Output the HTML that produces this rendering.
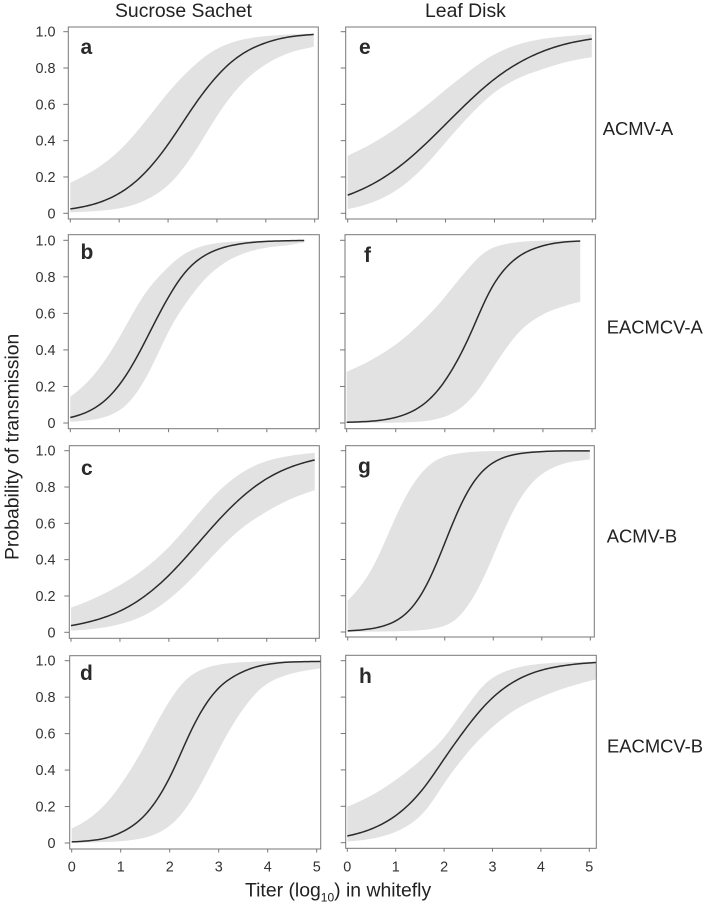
<!DOCTYPE html>
<html>
<head>
<meta charset="utf-8">
<title>Probability of transmission vs titer</title>
<style>
html,body{margin:0;padding:0;background:#fff;}
svg{display:block;font-family:"Liberation Sans",Arial,sans-serif;}
.title{font-size:19.4px;fill:#222;}
.virus{font-size:18.4px;fill:#222;}
.tick{font-size:14.4px;fill:#333;}
.letter{font-size:21px;font-weight:bold;fill:#2a2a2a;}
</style>
</head>
<body>
<svg id="chart" xmlns="http://www.w3.org/2000/svg" width="708" height="906" viewBox="0 0 708 906">
  <rect x="0" y="0" width="708" height="906" fill="#fff"/>
  <text class="title" x="115" y="17">Sucrose Sachet</text>
  <text class="title" x="425" y="17">Leaf Disk</text>
  <text class="virus" x="602.7" y="135">ACMV-A</text>
  <text class="virus" x="606.7" y="333.3">EACMCV-A</text>
  <text class="virus" x="606.7" y="542.7">ACMV-B</text>
  <text class="virus" x="607" y="752.3">EACMCV-B</text>
  <text class="title" transform="translate(18.3 560) rotate(-90)">Probability of transmission</text>
  <text class="title" x="245" y="896.5">Titer (log<tspan font-size="12px" dy="5">10</tspan><tspan dy="-5">) in whitefly</tspan></text>
</svg>
<script>
// Shared axis data
const titers = [0, 0.5, 1, 1.5, 2, 2.5, 3, 3.5, 4, 4.5];
const yTicks = [0, 0.2, 0.4, 0.6, 0.8, 1];
const yTickLabels = ['0', '0.2', '0.4', '0.6', '0.8', '1.0'];
const xTicks = [0, 1, 2, 3, 4, 5];
const xTickLabels = ['0', '1', '2', '3', '4', '5'];
const panelNames = ['a', 'b', 'c', 'd', 'e', 'f', 'g', 'h'];
const seriesEnds = [4.98, 4.76, 4.98, 5.08, 4.99, 4.76, 4.99, 5.14];

// Panel a
const meanA = [0.024, 0.052, 0.11, 0.216, 0.38, 0.58, 0.755, 0.874, 0.939, 0.972, 0.985];
const upperA = [0.169, 0.24, 0.345, 0.495, 0.664, 0.805, 0.905, 0.955, 0.976, 0.985, 0.99];
const lowerA = [0.005, 0.012, 0.027, 0.068, 0.155, 0.32, 0.535, 0.71, 0.82, 0.885, 0.917];
// Panel b
const meanB = [0.03, 0.083, 0.21, 0.435, 0.69, 0.87, 0.95, 0.982, 0.994, 0.998, 0.999];
const upperB = [0.144, 0.27, 0.47, 0.7, 0.855, 0.95, 0.985, 0.995, 0.998, 0.999, 0.999];
const lowerB = [0.007, 0.02, 0.07, 0.23, 0.5, 0.71, 0.85, 0.925, 0.96, 0.976, 0.988];
// Panel c
const meanC = [0.037, 0.067, 0.117, 0.198, 0.314, 0.46, 0.613, 0.746, 0.846, 0.911, 0.949];
const upperC = [0.136, 0.19, 0.26, 0.35, 0.47, 0.622, 0.772, 0.88, 0.943, 0.973, 0.988];
const lowerC = [0.009, 0.02, 0.045, 0.094, 0.182, 0.306, 0.45, 0.575, 0.665, 0.735, 0.783];
// Panel d
const meanD = [0.006, 0.017, 0.057, 0.155, 0.36, 0.65, 0.85, 0.94, 0.98, 0.993, 0.996];
const upperD = [0.08, 0.165, 0.32, 0.54, 0.78, 0.93, 0.978, 0.992, 0.997, 0.998, 0.999];
const lowerD = [0.002, 0.004, 0.01, 0.03, 0.095, 0.26, 0.51, 0.735, 0.875, 0.93, 0.958];
// Panel e
const meanE = [0.1, 0.16, 0.246, 0.359, 0.49, 0.622, 0.739, 0.829, 0.893, 0.935, 0.96];
const upperE = [0.317, 0.385, 0.47, 0.57, 0.68, 0.786, 0.875, 0.931, 0.961, 0.976, 0.985];
const lowerE = [0.024, 0.06, 0.128, 0.24, 0.39, 0.54, 0.665, 0.745, 0.795, 0.835, 0.86];
// Panel f
const meanF = [0.004, 0.01, 0.031, 0.09, 0.23, 0.475, 0.76, 0.91, 0.97, 0.992, 0.996];
const upperF = [0.28, 0.345, 0.43, 0.545, 0.69, 0.852, 0.961, 0.99, 0.998, 0.999, 0.999];
const lowerF = [0.001, 0.001, 0.002, 0.008, 0.035, 0.125, 0.31, 0.493, 0.594, 0.645, 0.664];
// Panel g
const meanG = [0.006, 0.019, 0.063, 0.201, 0.49, 0.786, 0.934, 0.982, 0.995, 0.999, 0.999];
const upperG = [0.173, 0.35, 0.64, 0.87, 0.968, 0.992, 0.998, 0.999, 0.999, 0.999, 0.999];
const lowerG = [0.001, 0.002, 0.004, 0.01, 0.035, 0.155, 0.42, 0.71, 0.87, 0.932, 0.952];
// Panel h
const meanH = [0.037, 0.076, 0.149, 0.275, 0.46, 0.645, 0.796, 0.893, 0.947, 0.974, 0.99];
const upperH = [0.198, 0.26, 0.345, 0.45, 0.579, 0.76, 0.905, 0.961, 0.983, 0.991, 0.995];
const lowerH = [0.007, 0.022, 0.06, 0.145, 0.325, 0.5, 0.635, 0.735, 0.8, 0.85, 0.897];

const meanSeries = [meanA, meanB, meanC, meanD, meanE, meanF, meanG, meanH];
const upperSeries = [upperA, upperB, upperC, upperD, upperE, upperF, upperG, upperH];
const lowerSeries = [lowerA, lowerB, lowerC, lowerD, lowerE, lowerF, lowerG, lowerH];

// Layout only: frame box, axis anchors and panel letter position for each panel
const layouts = [
  {l:68.3, r:318.3, t:27, b:219, x0:70.3, x5:314.7, y0:213.3, y1:31.7, lx:80.5, ly:54, yLabels:true, xLabels:false},
  {l:68.3, r:319.3, t:234.7, b:428.7, x0:70.3, x5:316, y0:423, y1:240.3, lx:80.5, ly:259, yLabels:true, xLabels:false},
  {l:69.3, r:319.3, t:445.7, b:638.3, x0:71, x5:315.7, y0:632.3, y1:450.7, lx:81, ly:475, yLabels:true, xLabels:false},
  {l:69.7, r:320.7, t:655.7, b:849, x0:71.7, x5:316.7, y0:843, y1:660.7, lx:80, ly:680, yLabels:true, xLabels:true},
  {l:345.7, r:595.7, t:27, b:219, x0:347.7, x5:592.3, y0:213.3, y1:31.7, lx:359, ly:54, yLabels:false, xLabels:false},
  {l:345, r:595.3, t:234.7, b:428.7, x0:346.7, x5:592, y0:423, y1:240.3, lx:364, ly:262, yLabels:false, xLabels:false},
  {l:345.7, r:594.3, t:445.7, b:637, x0:347.7, x5:590.3, y0:632, y1:450.7, lx:358, ly:473, yLabels:false, xLabels:false},
  {l:345.7, r:596.3, t:655.3, b:848.3, x0:347.3, x5:589.3, y0:842.7, y1:660.7, lx:359, ly:683, yLabels:false, xLabels:true}
];

const SVG_NS = 'http://www.w3.org/2000/svg';
const chart = document.getElementById('chart');

function make(tag, parent, attrs) {
  const el = document.createElementNS(SVG_NS, tag);
  for (const k in attrs) el.setAttribute(k, attrs[k]);
  parent.appendChild(el);
  return el;
}

function toLogit(p) {
  const c = Math.min(Math.max(p, 0.0005), 0.9995);
  return Math.log(c / (1 - c));
}
function fromLogit(v) {
  return 1 / (1 + Math.exp(-v));
}

// Spline through the read probabilities on the logit scale, which follows
// the sigmoid shape of these model fits; returns [titer, probability] pairs.
function smoothCurve(xs, probs) {
  const ys = probs.map(toLogit);
  const n = xs.length;
  const slopes = xs.map(function (_, i) {
    const a = Math.max(i - 1, 0), b = Math.min(i + 1, n - 1);
    return (ys[b] - ys[a]) / (xs[b] - xs[a]);
  });
  const out = [];
  for (let i = 0; i < n - 1; i++) {
    const h = xs[i + 1] - xs[i];
    const steps = 12;
    for (let s = 0; s < steps; s++) {
      const t = s / steps;
      const t2 = t * t, t3 = t2 * t;
      const v = (2 * t3 - 3 * t2 + 1) * ys[i] + (t3 - 2 * t2 + t) * h * slopes[i] +
                (-2 * t3 + 3 * t2) * ys[i + 1] + (t3 - t2) * h * slopes[i + 1];
      out.push([xs[i] + h * t, fromLogit(v)]);
    }
  }
  out.push([xs[n - 1], fromLogit(ys[n - 1])]);
  return out;
}

panelNames.forEach(function (letter, p) {
  const box = layouts[p];
  const sx = function (v) { return box.x0 + (box.x5 - box.x0) * v / 5; };
  const sy = function (v) { return box.y0 + (box.y1 - box.y0) * v; };
  const toPoint = function (pt) { return sx(pt[0]).toFixed(2) + ' ' + sy(pt[1]).toFixed(2); };
  const domain = titers.concat([seriesEnds[p]]);
  const meanPts = smoothCurve(domain, meanSeries[p]).map(toPoint);
  const upperPts = smoothCurve(domain, upperSeries[p]).map(toPoint);
  const lowerPts = smoothCurve(domain, lowerSeries[p]).map(toPoint);

  const group = make('g', chart, {});
  
  

  const clip = make('clipPath', group, {id: 'clip-' + letter});
  make('rect', clip, {x: box.l, y: box.t, width: box.r - box.l, height: box.b - box.t});

  const band = make('path', group, {
    d: 'M' + upperPts.concat(lowerPts.slice().reverse()).join('L') + 'Z',
    fill: '#e2e2e2', stroke: 'none', 'clip-path': 'url(#clip-' + letter + ')'
  });
  
  

  const line = make('path', group, {
    d: 'M' + meanPts.join('L'),
    fill: 'none', stroke: '#2b2b2b', 'stroke-width': 1.5, 'stroke-linejoin': 'round', 'clip-path': 'url(#clip-' + letter + ')'
  });
  
  

  const frame = make('rect', group, {
    x: box.l, y: box.t, width: box.r - box.l, height: box.b - box.t,
    fill: 'none', stroke: '#777', 'stroke-width': 1
  });
  
  

  yTicks.forEach(function (v, i) {
    const tick = make('line', group, {x1: box.l - 5, x2: box.l, y1: sy(v), y2: sy(v), stroke: '#777', 'stroke-width': 1});
    
    
    if (box.yLabels) {
      const label = make('text', group, {class: 'tick', x: 55.5, y: sy(v) + 5, 'text-anchor': 'end'});
      label.textContent = yTickLabels[i];
      
      
    }
  });

  xTicks.forEach(function (v, i) {
    const tick = make('line', group, {x1: sx(v), x2: sx(v), y1: box.b, y2: box.b + 3.5, stroke: '#777', 'stroke-width': 1});
    
    
    if (box.xLabels) {
      const label = make('text', group, {class: 'tick', x: sx(v), y: 871.7, 'text-anchor': 'middle'});
      label.textContent = xTickLabels[i];
      
      
    }
  });

  const tag = make('text', group, {class: 'letter', x: box.lx, y: box.ly});
  tag.textContent = letter;
  
  
});
</script>
</body>
</html>
